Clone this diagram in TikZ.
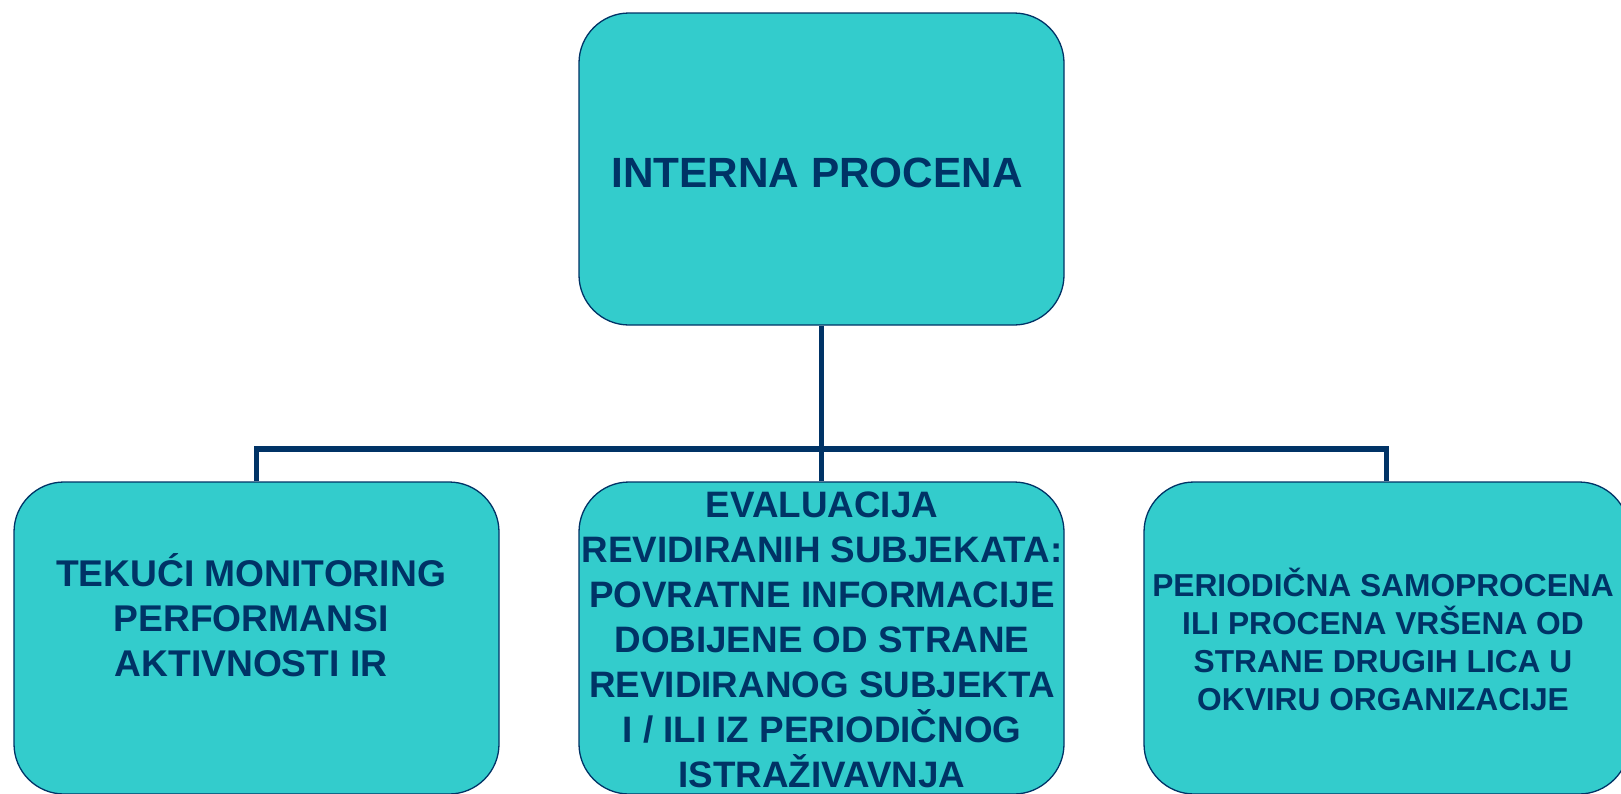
\documentclass[tikz,border=0pt]{standalone}
\usepackage{fontspec}
\setmainfont{Liberation Sans}
\definecolor{boxfill}{HTML}{33CCCC}
\definecolor{navy}{HTML}{003366}
\tikzset{
  box/.style={draw=navy, line width=1.3pt, fill=boxfill, rounded corners=50pt,
    minimum width=485pt, minimum height=312pt, inner sep=0pt},
  txt/.style={text=navy, font=\bfseries, align=center, inner sep=0pt},
  conn/.style={draw=navy, line width=5.5pt}
}
\begin{document}
\begin{tikzpicture}[x=1pt,y=-1pt]
\useasboundingbox (0,0) rectangle (1621,793);
% boxes
\node[box] (top) at (821.5,169) {};
\node[box] (left) at (256.5,638) {};
\node[box] (mid) at (821.5,638) {};
\node[box] (right) at (1386.5,638) {};
% connectors
\coordinate (bar) at (821.5,449);
\draw[conn] (top.south) -- (mid.north);
\draw[conn] (left.north) |- (bar) -| (right.north);
% texts
\node[txt, font=\bfseries\fontsize{42.3}{50}\selectfont, anchor=base] (ttop) at (817,187) {INTERNA PROCENA};
\node[txt, font=\bfseries\fontsize{37.2}{45}\selectfont] (tleft) at (251,615)
  {TEKUĆI MONITORING\\PERFORMANSI\\AKTIVNOSTI IR};
\node[txt, font=\bfseries\fontsize{36.8}{45}\selectfont] (tmid) at (822,640)
  {EVALUACIJA\\REVIDIRANIH SUBJEKATA:\\POVRATNE INFORMACIJE\\DOBIJENE OD STRANE\\REVIDIRANOG SUBJEKTA\\I / ILI IZ PERIODIČNOG\\ISTRAŽIVAVNJA};
\node[txt, font=\bfseries\fontsize{31.7}{38}\selectfont] (tright) at (1383,639)
  {PERIODIČNA SAMOPROCENA\\ILI PROCENA VRŠENA OD\\STRANE DRUGIH LICA U\\OKVIRU ORGANIZACIJE};
\end{tikzpicture}
\end{document}
